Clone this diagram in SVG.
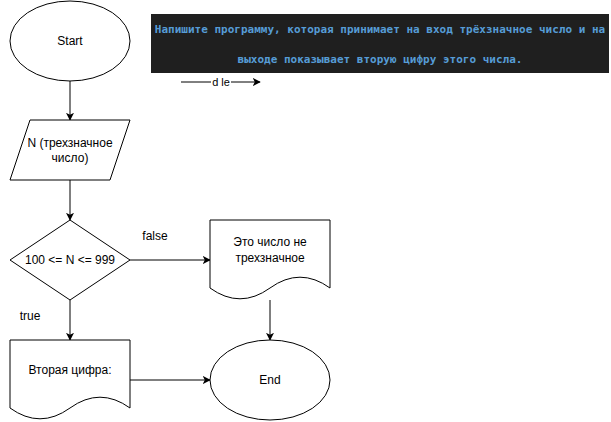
<svg xmlns="http://www.w3.org/2000/svg" width="611" height="422" viewBox="0 0 611 422">
<defs>
<marker id="arr" viewBox="0 0 10 10" refX="9" refY="5" markerWidth="8" markerHeight="8" markerUnits="userSpaceOnUse" orient="auto">
<path d="M0,0 L10,5 L0,10 L2.5,5 Z" fill="#000"/>
</marker>
</defs>
<style>
.s{fill:#fff;stroke:#000;stroke-width:1}
.t{font-family:"Liberation Sans",Arial,sans-serif;font-size:12px;fill:#000;text-anchor:middle;dominant-baseline:central}
.e{fill:none;stroke:#000;stroke-width:1;marker-end:url(#arr)}
.c{font-family:"DejaVu Sans Mono","Liberation Mono",monospace;font-size:11px;font-weight:bold;fill:#569cd6;text-anchor:middle;dominant-baseline:central}
</style>
<rect width="611" height="422" fill="#fff"/>
<g id="note">
<rect x="151" y="14" width="458" height="59" fill="#1f1f1f"/>
<text class="c" x="380" y="29">Напишите программу, которая принимает на вход трёхзначное число и на</text>
<text class="c" x="380" y="59">выходе показывает вторую цифру этого числа.</text>
</g>
<g id="connectors">
<path class="e" d="M70,81 V120"/>
<path class="e" d="M70,180 V220"/>
<path class="e" d="M130,260 H210"/>
<path class="e" d="M70,300 V340"/>
<path class="e" d="M270,300 V340"/>
<path class="e" d="M130,380 H210"/>
<path class="e" d="M181,82 H260"/>
<rect x="211" y="76" width="20" height="12" fill="#fff"/>
<text class="t" x="221" y="82" style="font-size:11px">d le</text>
<text class="t" x="155" y="236">false</text>
<text class="t" x="30" y="316">true</text>
</g>
<g id="start">
<ellipse class="s" cx="70" cy="41" rx="60" ry="40"/>
<text class="t" x="70" y="41">Start</text>
</g>
<g id="input">
<path class="s" d="M30,120 H130 L110,180 H10 Z"/>
<text class="t" x="70" y="143">N (трехзначное</text>
<text class="t" x="70" y="158">число)</text>
</g>
<g id="decision">
<path class="s" d="M70,220 L130,260 L70,300 L10,260 Z"/>
<text class="t" x="70" y="260">100 &lt;= N &lt;= 999</text>
</g>
<g id="error">
<path class="s" d="M210,220 H330 V288 Q300,266.4 270,288 Q240,309.6 210,288 Z"/>
<text class="t" x="270" y="242">Это число не</text>
<text class="t" x="270" y="258">трехзначное</text>
</g>
<g id="output">
<path class="s" d="M10,340 H130 V408 Q100,386.4 70,408 Q40,429.6 10,408 Z"/>
<text class="t" x="70" y="370">Вторая цифра:</text>
</g>
<g id="end">
<ellipse class="s" cx="270" cy="380" rx="60" ry="40"/>
<text class="t" x="270" y="380">End</text>
</g>
</svg>
